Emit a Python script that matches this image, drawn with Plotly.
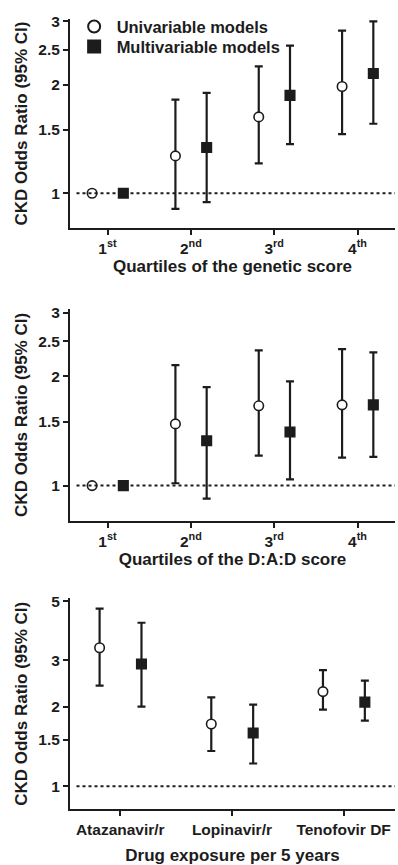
import math
import plotly.graph_objects as go

# ---------------- data ----------------
quartile_labels = ["1<sup>st</sup>", "2<sup>nd</sup>", "3<sup>rd</sup>", "4<sup>th</sup>"]

gen_uni_or = [1.0, 1.27, 1.63, 1.98]
gen_uni_lo = [1.0, 0.905, 1.21, 1.46]
gen_uni_hi = [1.0, 1.82, 2.25, 2.83]
gen_multi_or = [1.0, 1.34, 1.87, 2.15]
gen_multi_lo = [1.0, 0.945, 1.37, 1.56]
gen_multi_hi = [1.0, 1.90, 2.57, 3.00]

dad_uni_or = [1.0, 1.48, 1.66, 1.67]
dad_uni_lo = [1.0, 1.015, 1.21, 1.195]
dad_uni_hi = [1.0, 2.15, 2.36, 2.38]
dad_multi_or = [1.0, 1.33, 1.405, 1.67]
dad_multi_lo = [1.0, 0.92, 1.04, 1.20]
dad_multi_hi = [1.0, 1.87, 1.94, 2.33]

drug_labels = ["Atazanavir/r", "Lopinavir/r", "Tenofovir DF"]
drug_uni_or = [3.34, 1.72, 2.28]
drug_uni_lo = [2.40, 1.36, 1.95]
drug_uni_hi = [4.69, 2.17, 2.75]
drug_multi_or = [2.90, 1.59, 2.08]
drug_multi_lo = [2.00, 1.22, 1.77]
drug_multi_hi = [4.15, 2.035, 2.51]

quartile_ticks = [1, 1.5, 2, 2.5, 3]
drug_ticks = [1, 1.5, 2, 3, 5]

x_titles = ["Quartiles of the genetic score", "Quartiles of the D:A:D score",
            "Drug exposure per 5 years"]
y_title = "CKD Odds Ratio (95% CI)"

# ---------------- style ----------------
INK = "#1c1c1c"
FONT = "Liberation Sans, Arial, sans-serif"
OFF_U, OFF_M = -0.185, 0.19

fig = go.Figure()


def add_pair(axn, uni, multi, showlegend):
    xa = "x" if axn == 1 else f"x{axn}"
    ya = "y" if axn == 1 else f"y{axn}"
    for (orv, lo, hi), off, sym, fill, name, leg in [
        (uni, OFF_U, "circle", "white", "Univariable models", "legend"),
        (multi, OFF_M, "square", INK, "Multivariable models", "legend2"),
    ]:
        n = len(orv)
        fig.add_trace(go.Scatter(
            x=[i + off for i in range(n)], y=orv, mode="markers",
            xaxis=xa, yaxis=ya, name=name, showlegend=showlegend, legend=leg,
            marker=dict(symbol=sym, size=9.5,
                        color=fill, line=dict(color=INK, width=1.6)),
            error_y=dict(type="data", symmetric=False,
                         array=[h - o for h, o in zip(hi, orv)],
                         arrayminus=[o - l for o, l in zip(orv, lo)],
                         color=INK, thickness=2.2, width=4),
        ))


add_pair(1, (gen_uni_or, gen_uni_lo, gen_uni_hi), (gen_multi_or, gen_multi_lo, gen_multi_hi), True)
add_pair(2, (dad_uni_or, dad_uni_lo, dad_uni_hi), (dad_multi_or, dad_multi_lo, dad_multi_hi), False)
add_pair(3, (drug_uni_or, drug_uni_lo, drug_uni_hi), (drug_multi_or, drug_multi_lo, drug_multi_hi), False)

H = 865.0
domains = [
    [1 - 224 / H, 1 - 13 / H],
    [1 - 519.5 / H, 1 - 305 / H],
    [1 - 810 / H, 1 - 597 / H],
]
yranges = [[0.80, 3.05], [0.797, 3.08], [0.818, 5.14]]
xranges = [[-0.45, 3.45], [-0.45, 3.45], [-0.45, 2.46]]
xticks = [quartile_labels, quartile_labels, drug_labels]
yticks = [quartile_ticks, quartile_ticks, drug_ticks]
xstandoff = [4, 2, 15]

tickfont = dict(family=FONT, size=15.5, color=INK, weight="bold")
titlefont = dict(family=FONT, size=17, color=INK, weight="bold")
legfont = dict(family=FONT, size=16.5, color=INK, weight="bold")

layout = {}
for k in range(3):
    sfx = "" if k == 0 else str(k + 1)
    layout["xaxis" + sfx] = dict(
        domain=[0, 1], anchor="y" + sfx, range=xranges[k],
        tickmode="array", tickvals=list(range(len(xticks[k]))), ticktext=xticks[k],
        showline=True, linecolor=INK, linewidth=2, ticks="outside", ticklen=5,
        tickwidth=2, tickcolor=INK, showgrid=False, zeroline=False,
        tickfont=tickfont,
        title=dict(text=x_titles[k], font=titlefont, standoff=xstandoff[k]),
    )
    layout["yaxis" + sfx] = dict(
        domain=domains[k], anchor="x" + sfx, type="log",
        range=[math.log10(yranges[k][0]), math.log10(yranges[k][1])],
        tickmode="array", tickvals=yticks[k], ticktext=[str(v) for v in yticks[k]],
        showline=True, linecolor=INK, linewidth=2, ticks="outside", ticklen=5,
        tickwidth=2, tickcolor=INK, showgrid=False, zeroline=False,
        tickfont=tickfont,
        title=dict(text=y_title, font=titlefont, standoff=6),
    )

shapes = []
for k in range(3):
    sfx = "" if k == 0 else str(k + 1)
    shapes.append(dict(type="line", xref=f"x{sfx} domain", yref=f"y{sfx}",
                       x0=0.02, x1=1, y0=1, y1=1,
                       line=dict(color=INK, width=2, dash="dot")))

fig.update_layout(
    **layout,
    shapes=shapes,
    font=dict(family=FONT, color=INK),
    width=398, height=865,
    margin=dict(l=70, r=3, t=0, b=0),
    paper_bgcolor="white", plot_bgcolor="white",
    showlegend=True,
    legend=dict(x=0.005, y=1 - 21 / H, xanchor="left", yanchor="middle",
                bgcolor="rgba(0,0,0,0)", font=legfont, itemwidth=35,
                itemsizing="constant"),
    legend2=dict(x=0.005, y=1 - 41 / H, xanchor="left", yanchor="middle",
                 bgcolor="rgba(0,0,0,0)", font=legfont, itemwidth=35,
                 itemsizing="constant"),
)

fig.write_html("out.html")
